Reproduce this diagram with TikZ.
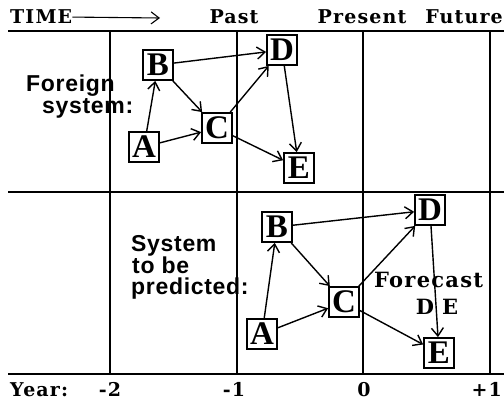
\documentclass[tikz,border=0pt]{standalone}
\usepackage{fontspec}
\setmainfont{Liberation Serif}
\newfontfamily\hdfont[LetterSpace=6]{DejaVu Serif}
\newfontfamily\lblfont[LetterSpace=3]{Liberation Sans}
\usetikzlibrary{positioning, arrows.meta}
\tikzset{
  sysbox/.style={draw, line width=1.8pt, minimum size=30pt, inner sep=0pt,
                 font=\fontsize{33}{33}\selectfont\bfseries},
  hdtxt/.style={font=\hdfont\fontsize{19}{19}\selectfont\bfseries, inner sep=0pt},
  fctxt/.style={font=\hdfont\fontsize{21}{21}\selectfont\bfseries, inner sep=0pt},
  systxt/.style={font=\lblfont\fontsize{23}{21}\selectfont\bfseries, inner sep=0pt,
                 anchor=base west},
  rule/.style={line width=1.6pt},
  sarr/.style={-{Straight Barb[length=8pt,width=12pt]}, line width=1.4pt},
}

\begin{document}
\begin{tikzpicture}[x=1pt, y=-1pt]
  \useasboundingbox (0,0) rectangle (504,403);
  % time grid
  \foreach \y in {31,192,374} \draw[rule] (8,\y) -- (504,\y);
  \foreach \x in {110,237,363,490} \draw[rule] (\x,31) -- (\x,374);

  % header and year scale
  \node[hdtxt, anchor=base west] (time) at (10,24) {TIME};
  \coordinate (tend) at (160,18);
  \draw[sarr, line width=1.1pt] (time.east) -- (tend);
  \node[hdtxt, anchor=base] (past) at (234,24) {Past};
  \node[hdtxt, anchor=base] (present) at (362,24) {Present};
  \node[hdtxt, anchor=base east] (future) at (503,24) {Future};
  \node[hdtxt, anchor=base west] (year) at (10,397) {Year:};
  \node[hdtxt, anchor=base] (ym2) at (110,397) {-2};
  \node[hdtxt, anchor=base] (ym1) at (234,397) {-1};
  \node[hdtxt, anchor=base] (y0) at (364,397) {0};
  \node[hdtxt, anchor=base east] (yp1) at (502,397) {+1};

  % foreign system
  \node[systxt] (fs1) at (26,92) {Foreign};
  \node[systxt] (fs2) at (42,114) {system:};
  \node[sysbox] (fA) at (144,147) {A};
  \node[sysbox] (fB) at (158,65) {B};
  \node[sysbox] (fC) at (217,128) {C};
  \node[sysbox] (fD) at (282,50) {D};
  \node[sysbox] (fE) at (299,168) {E};

  % system to be predicted
  \node[systxt] (st1) at (131,252) {System};
  \node[systxt] (st2) at (132,273.5) {to be};
  \node[systxt] (st3) at (131,295) {predicted:};
  \node[sysbox] (pA) at (262,334) {A};
  \node[sysbox] (pB) at (277,227) {B};
  \node[sysbox] (pC) at (344,302) {C};
  \node[sysbox] (pD) at (430,210) {D};
  \node[sysbox] (pE) at (439,353) {E};
  \node[fctxt, anchor=base west] (fc) at (374,288) {Forecast};
  \node[fctxt, anchor=base] (fcde) at (437,315) {D\hspace{8pt}E};

  \foreach \s in {f,p}
    \foreach \a/\b in {A/B,A/C,B/C,B/D,C/D,C/E,D/E}
      \draw[sarr] (\s\a) -- (\s\b);
\end{tikzpicture}
\end{document}
